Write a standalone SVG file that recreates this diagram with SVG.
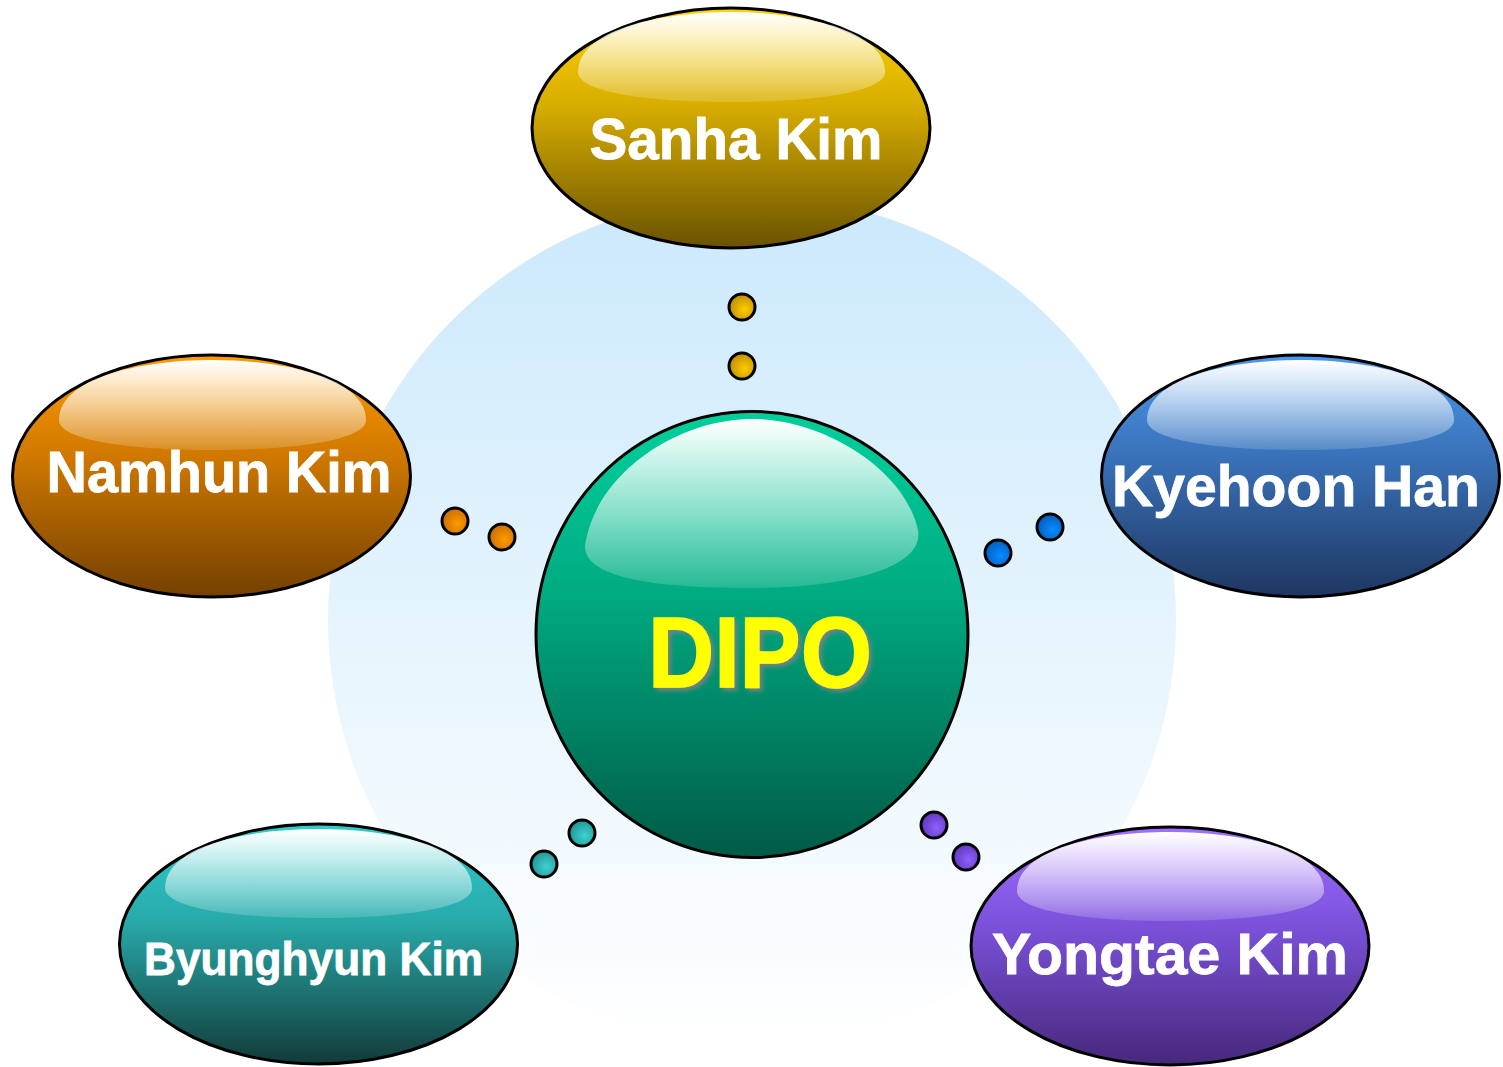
<svg xmlns="http://www.w3.org/2000/svg" width="1503" height="1067" viewBox="0 0 1503 1067">
<defs>
<style>
.node{stroke:#000;stroke-width:3}
.dot{stroke:#000;stroke-width:3}
.lbl{font-family:"Liberation Sans",Arial,sans-serif;font-weight:bold;fill:#fff;stroke:#fff;stroke-width:0.8;text-anchor:middle}
</style>
<linearGradient id="bg" x1="0" y1="0" x2="0" y2="1">
<stop offset="0" stop-color="#cbe9fc"/><stop offset="1" stop-color="#ffffff"/>
</linearGradient>
<linearGradient id="gGold" x1="0" y1="0" x2="0" y2="1">
<stop offset="0" stop-color="#ffd200"/><stop offset="0.4" stop-color="#d8ae00"/><stop offset="1" stop-color="#6a5200"/>
</linearGradient>
<linearGradient id="gOrange" x1="0" y1="0" x2="0" y2="1">
<stop offset="0" stop-color="#ff9a00"/><stop offset="0.4" stop-color="#d27a00"/><stop offset="1" stop-color="#744000"/>
</linearGradient>
<linearGradient id="gBlue" x1="0" y1="0" x2="0" y2="1">
<stop offset="0" stop-color="#4a98ec"/><stop offset="0.4" stop-color="#3a74bc"/><stop offset="1" stop-color="#1e3660"/>
</linearGradient>
<linearGradient id="gTeal" x1="0" y1="0" x2="0" y2="1">
<stop offset="0" stop-color="#30cccc"/><stop offset="0.4" stop-color="#28aaaa"/><stop offset="1" stop-color="#123a38"/>
</linearGradient>
<linearGradient id="gPurple" x1="0" y1="0" x2="0" y2="1">
<stop offset="0" stop-color="#a070ff"/><stop offset="0.4" stop-color="#7c52dc"/><stop offset="1" stop-color="#46287a"/>
</linearGradient>
<linearGradient id="gGreen" x1="0" y1="0" x2="0" y2="1">
<stop offset="0" stop-color="#00d09c"/><stop offset="0.4" stop-color="#00ac82"/><stop offset="1" stop-color="#005a46"/>
</linearGradient>
<linearGradient id="hl" x1="0" y1="0" x2="0" y2="1">
<stop offset="0" stop-color="#ffffff" stop-opacity="1"/><stop offset="1" stop-color="#ffffff" stop-opacity="0.15"/>
</linearGradient>
<radialGradient id="dGold" cx="0.6" cy="0.6" r="0.6"><stop offset="0" stop-color="#ffcc00"/><stop offset="1" stop-color="#c09000"/></radialGradient>
<radialGradient id="dOrange" cx="0.6" cy="0.6" r="0.6"><stop offset="0" stop-color="#ff9a00"/><stop offset="1" stop-color="#c87000"/></radialGradient>
<radialGradient id="dBlue" cx="0.6" cy="0.6" r="0.6"><stop offset="0" stop-color="#0a8cff"/><stop offset="1" stop-color="#0060c0"/></radialGradient>
<radialGradient id="dTeal" cx="0.6" cy="0.6" r="0.6"><stop offset="0" stop-color="#40d0d0"/><stop offset="1" stop-color="#209898"/></radialGradient>
<radialGradient id="dPurple" cx="0.6" cy="0.6" r="0.6"><stop offset="0" stop-color="#9060ff"/><stop offset="1" stop-color="#6038c0"/></radialGradient>
<filter id="sh" x="-10%" y="-10%" width="130%" height="130%">
<feDropShadow dx="3" dy="3" stdDeviation="2" flood-color="#808080" flood-opacity="0.9"/>
</filter>
</defs>

<circle id="background" cx="752" cy="620" r="424" fill="url(#bg)"/>

<g id="connectors">
<circle class="dot" cx="742" cy="307" r="13" fill="url(#dGold)"/>
<circle class="dot" cx="742" cy="366" r="13" fill="url(#dGold)"/>
<circle class="dot" cx="455" cy="521" r="13" fill="url(#dOrange)"/>
<circle class="dot" cx="502" cy="537" r="13" fill="url(#dOrange)"/>
<circle class="dot" cx="1050" cy="527" r="13" fill="url(#dBlue)"/>
<circle class="dot" cx="998" cy="553" r="13" fill="url(#dBlue)"/>
<circle class="dot" cx="582" cy="833" r="13" fill="url(#dTeal)"/>
<circle class="dot" cx="544" cy="864" r="13" fill="url(#dTeal)"/>
<circle class="dot" cx="934" cy="825" r="13" fill="url(#dPurple)"/>
<circle class="dot" cx="966" cy="857" r="13" fill="url(#dPurple)"/>
</g>

<g id="sanha">
<ellipse class="node" cx="731" cy="128" rx="199" ry="120" fill="url(#gGold)"/>
<path d="M578,72 C578,30 660,12 731,12 C802,12 885,30 885,72 C885,92 815,102 731,102 C647,102 578,92 578,72 Z" fill="url(#hl)"/>
<text class="lbl" x="736" y="159" font-size="58" textLength="293" lengthAdjust="spacingAndGlyphs">Sanha Kim</text>
</g>

<g id="namhun">
<ellipse class="node" cx="211.5" cy="476" rx="199" ry="121" fill="url(#gOrange)"/>
<path d="M59,420 C59,378 140,360 212,360 C284,360 366,378 366,420 C366,440 296,450 212,450 C128,450 59,440 59,420 Z" fill="url(#hl)"/>
<text class="lbl" x="219" y="492" font-size="58" textLength="345" lengthAdjust="spacingAndGlyphs">Namhun Kim</text>
</g>

<g id="kyehoon">
<ellipse class="node" cx="1300.5" cy="476" rx="199" ry="121" fill="url(#gBlue)"/>
<path d="M1147,420 C1147,378 1228,360 1300,360 C1372,360 1454,378 1454,420 C1454,440 1384,450 1300,450 C1216,450 1147,440 1147,420 Z" fill="url(#hl)"/>
<text class="lbl" x="1296" y="506" font-size="58" textLength="368" lengthAdjust="spacingAndGlyphs">Kyehoon Han</text>
</g>

<g id="byunghyun">
<ellipse class="node" cx="318.5" cy="944" rx="199" ry="120" fill="url(#gTeal)"/>
<path d="M165,888 C165,846 246,829 318,829 C390,829 472,846 472,888 C472,908 402,918 318,918 C234,918 165,908 165,888 Z" fill="url(#hl)"/>
<text class="lbl" x="313.5" y="975" font-size="47" textLength="339" lengthAdjust="spacingAndGlyphs">Byunghyun Kim</text>
</g>

<g id="yongtae">
<ellipse class="node" cx="1170" cy="946" rx="199" ry="119" fill="url(#gPurple)"/>
<path d="M1017,891 C1017,849 1098,832 1170,832 C1242,832 1324,849 1324,891 C1324,911 1254,921 1170,921 C1086,921 1017,911 1017,891 Z" fill="url(#hl)"/>
<text class="lbl" x="1170" y="974" font-size="58" textLength="356" lengthAdjust="spacingAndGlyphs">Yongtae Kim</text>
</g>

<g id="dipo">
<ellipse class="node" cx="752" cy="634.5" rx="216" ry="223" fill="url(#gGreen)"/>
<path d="M586,540 C600,470 680,419 752,419 C824,419 905,470 918,530 C925,570 840,588 752,588 C664,588 575,580 586,540 Z" fill="url(#hl)"/>
<text x="760" y="687" font-family="Liberation Sans,Arial,sans-serif" font-weight="bold" font-size="100" fill="#ffff00" stroke="#ffff00" stroke-width="1.5" text-anchor="middle" textLength="224" lengthAdjust="spacingAndGlyphs" filter="url(#sh)">DIPO</text>
</g>
</svg>
